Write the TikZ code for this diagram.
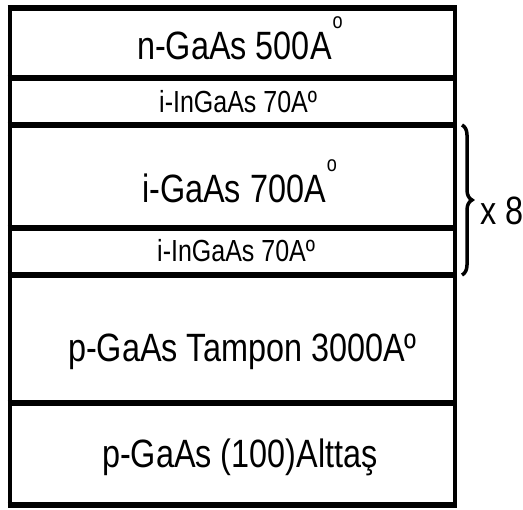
\documentclass[tikz,border=0pt]{standalone}
\usepackage{fontspec}
\setmainfont{Liberation Sans}[FakeStretch=0.82]
\usetikzlibrary{decorations.pathreplacing}
\newcommand{\bigring}{\kern1pt\raisebox{31pt}{\fontsize{22}{22}\selectfont o}}

\begin{document}
\begin{tikzpicture}[x=1pt,y=-1pt,
  big/.style={font=\fontsize{39.5}{40}\selectfont,anchor=base west,inner sep=0pt},
  small/.style={font=\fontsize{30.5}{31}\selectfont,anchor=base west,inner sep=0pt}]
  \useasboundingbox (0,0) rectangle (523,510);
  % katmanlar
  \draw[line width=4pt] (9.5,8)--(9.5,505) (455,8)--(455,505);
  \foreach \y in {8,78,125,228,275,403,505}
    \draw[line width=6pt] (7.5,\y)--(457,\y);
  % etiketler
  \node[big] (nGaAs) at (137,60) {n-GaAs 500A\bigring};
  \node[small] (InGaAsUst) at (159,113) {i-InGaAs 70Aº};
  \node[big] (iGaAs) at (142,203) {i-GaAs 700A\bigring};
  \node[small] (InGaAsAlt) at (157,262) {i-InGaAs 70Aº};
  \node[big] (tampon) at (68,362) {p-GaAs Tampon 3000Aº};
  \node[big] (alttas) at (102,468) {p-GaAs (100)Alttaş};
  % tekrar
  \draw[line width=3.5pt,decorate,decoration={brace,amplitude=10pt}] (462,125)--(462,275);
  \node[big] (tekrar) at (480,225) {x 8};
\end{tikzpicture}
\end{document}
